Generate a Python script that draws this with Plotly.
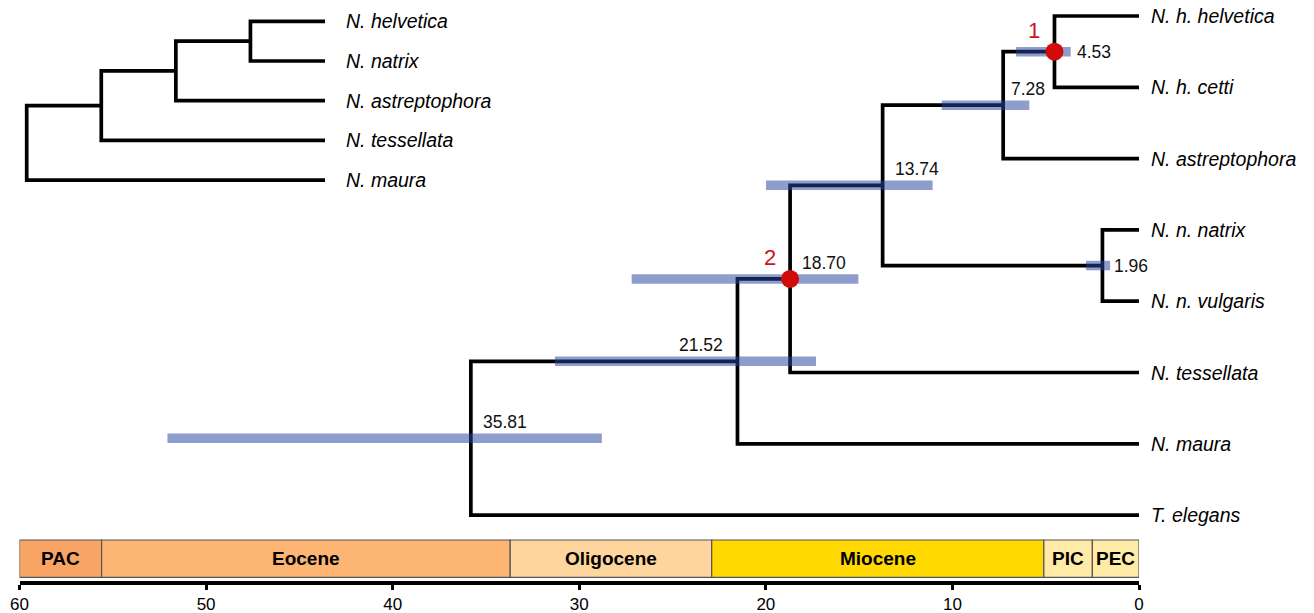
import plotly.graph_objects as go

# ---------------- data ----------------
tips = ["N. h. helvetica", "N. h. cetti", "N. astreptophora", "N. n. natrix",
        "N. n. vulgaris", "N. tessellata", "N. maura", "T. elegans"]

node_ids = ["n1", "n2", "n3", "n4", "n5", "n6", "n7"]
node_left = ["N. h. helvetica", "n1", "N. n. natrix", "n2", "n4", "n5", "n6"]
node_right = ["N. h. cetti", "N. astreptophora", "N. n. vulgaris", "n3",
              "N. tessellata", "N. maura", "T. elegans"]
node_ages = [4.53, 7.28, 1.96, 13.74, 18.70, 21.52, 35.81]
hpd_low = [3.66, 5.88, 1.55, 11.06, 15.04, 17.31, 28.79]
hpd_high = [6.59, 10.57, 2.84, 19.99, 27.19, 31.30, 52.07]

calib_nodes = ["n1", "n5"]
calib_labels = ["1", "2"]

period_names = ["PAC", "Eocene", "Oligocene", "Miocene", "PIC", "PEC"]
period_start = [60, 55.6, 33.7, 22.9, 5.1, 2.5]
period_end = [55.6, 33.7, 22.9, 5.1, 2.5, 0]
period_colors = ["#F8A465", "#FDB574", "#FED69D", "#FFD900", "#FFEBA6", "#FFEBA6"]

tick_vals = [60, 50, 40, 30, 20, 10, 0]

inset_tips = ["N. helvetica", "N. natrix", "N. astreptophora", "N. tessellata", "N. maura"]
inset_ids = ["m1", "m2", "m3", "m4"]
inset_left = ["N. helvetica", "m1", "m2", "m3"]
inset_right = ["N. natrix", "N. astreptophora", "N. tessellata", "N. maura"]
inset_rank = [3, 2, 1, 0]
inset_tip_rank = 4

# ---------------- layout constants ----------------
W, H = 1314, 613
FONT = "Liberation Sans, Arial, Helvetica, sans-serif"
X0_PX, X60_PX = 1139.0, 19.5
ROW0_PX, ROW_STEP = 16.0, 71.3
MAIN_TOP_PX, MAIN_BOT_PX = 0.0, 581.0
BOX_TOP_PX, BOX_BOT_PX = 540.0, 577.3

def row_of(px):
    return (px - ROW0_PX) / ROW_STEP

# main tree coordinates
xpos, ypos = {}, {}
for i, t in enumerate(tips):
    xpos[t], ypos[t] = 0.0, float(i)
for nid, l, r, a in zip(node_ids, node_left, node_right, node_ages):
    xpos[nid] = a
    ypos[nid] = (ypos[l] + ypos[r]) / 2

tree_x, tree_y = [], []
for nid, l, r in zip(node_ids, node_left, node_right):
    a = xpos[nid]
    tree_x += [xpos[l], a, a, xpos[r], None]
    tree_y += [ypos[l], ypos[l], ypos[r], ypos[r], None]

hpd_x, hpd_y = [], []
for nid, lo, hi in zip(node_ids, hpd_low, hpd_high):
    hpd_x += [hi, lo, None]
    hpd_y += [ypos[nid], ypos[nid], None]

fig = go.Figure()
fig.add_trace(go.Scatter(x=tree_x, y=tree_y, mode="lines",
                         line=dict(color="black", width=3.7),
                         hoverinfo="skip", showlegend=False))
fig.add_trace(go.Scatter(x=hpd_x, y=hpd_y, mode="lines",
                         line=dict(color="rgba(38,68,155,0.52)", width=9.5),
                         hoverinfo="skip", showlegend=False))
fig.add_trace(go.Scatter(x=[xpos[n] for n in calib_nodes], y=[ypos[n] for n in calib_nodes],
                         mode="markers", marker=dict(color="#D20A0A", size=18, line=dict(width=0)),
                         cliponaxis=False, hoverinfo="skip", showlegend=False))

# inset tree
ixpos, iypos = {}, {}
for i, t in enumerate(inset_tips):
    ixpos[t], iypos[t] = float(inset_tip_rank), float(i)
for mid, l, r, rk in zip(inset_ids, inset_left, inset_right, inset_rank):
    ixpos[mid] = float(rk)
    iypos[mid] = (iypos[l] + iypos[r]) / 2
ix, iy = [], []
for mid, l, r in zip(inset_ids, inset_left, inset_right):
    a = ixpos[mid]
    ix += [ixpos[l], a, a, ixpos[r], None]
    iy += [iypos[l], iypos[l], iypos[r], iypos[r], None]
fig.add_trace(go.Scatter(x=ix, y=iy, mode="lines", xaxis="x2", yaxis="y2",
                         line=dict(color="black", width=3.7),
                         hoverinfo="skip", showlegend=False))

annotations = []
# tip labels
for t in tips:
    annotations.append(dict(x=0, y=ypos[t], xref="x", yref="y", text=f"<i>{t}</i>",
                            showarrow=False, xanchor="left", yanchor="middle", xshift=10,
                            font=dict(size=19.5, color="black", family=FONT)))
for t in inset_tips:
    annotations.append(dict(x=ixpos[t], y=iypos[t], xref="x2", yref="y2", text=f"<i>{t}</i>",
                            showarrow=False, xanchor="left", yanchor="middle", xshift=19,
                            font=dict(size=19.5, color="black", family=FONT)))

# node age labels
place = {"n1": ("bar", 4, 0), "n3": ("bar", 2, 0), "n6": ("left", -12, 16)}
for nid, a, lo in zip(node_ids, node_ages, hpd_low):
    kind, dx, dy = place.get(nid, ("right", 10, 16))
    if kind == "bar":
        xa, anchor = lo, "left"
    elif kind == "left":
        xa, anchor = a, "right"
    else:
        xa, anchor = a, "left"
    if nid == "n2":
        dx = 6
    annotations.append(dict(x=xa, y=ypos[nid], xref="x", yref="y", text=f"{a:.2f}",
                            showarrow=False, xanchor=anchor, yanchor="middle",
                            xshift=dx, yshift=dy,
                            font=dict(size=17.5, color="#111111", family=FONT)))
# calibration labels
for n, lab in zip(calib_nodes, calib_labels):
    annotations.append(dict(x=xpos[n], y=ypos[n], xref="x", yref="y", text=lab,
                            showarrow=False, xanchor="center", yanchor="middle",
                            xshift=-20, yshift=21,
                            font=dict(size=22, color="#C8141E", family=FONT)))

# geological periods
shapes = []
by0, by1 = row_of(BOX_TOP_PX), row_of(BOX_BOT_PX)
for name, s, e, c in zip(period_names, period_start, period_end, period_colors):
    shapes.append(dict(type="rect", xref="x", yref="y", x0=s, x1=e, y0=by0, y1=by1,
                       fillcolor=c, line=dict(color="#555555", width=1.2), layer="below"))
    annotations.append(dict(x=(s + e) / 2, y=(by0 + by1) / 2, xref="x", yref="y",
                            text=name, showarrow=False, xanchor="center", yanchor="middle",
                            font=dict(size=19, color="black", family=FONT, weight="bold")))

# axis geometry
y_dom = [(H - MAIN_BOT_PX) / H, (H - MAIN_TOP_PX) / H]
y_rng = [row_of(MAIN_BOT_PX), row_of(MAIN_TOP_PX)]

INS_ROW0, INS_STEP = 21.3, 39.7
INS_R0, INS_RSTEP = 26.7, 74.575
ins_xpx = [10, 340]
ins_ypx = [8, 195]

fig.update_layout(
    width=W, height=H,
    margin=dict(l=0, r=0, t=0, b=0, autoexpand=False),
    paper_bgcolor="white", plot_bgcolor="rgba(0,0,0,0)",
    font=dict(family=FONT, color="black"),
    showlegend=False,
    hovermode=False,
    xaxis=dict(domain=[X60_PX / W, X0_PX / W], range=[60, 0], anchor="y",
               automargin=False,
               showline=True, linecolor="black", linewidth=4,
               ticks="outside", ticklen=5, tickwidth=3, tickcolor="black",
               tickvals=tick_vals, ticktext=[str(v) for v in tick_vals],
               tickfont=dict(size=17, color="black", family=FONT),
               showgrid=False, zeroline=False, fixedrange=True),
    yaxis=dict(domain=y_dom, range=[y_rng[0], y_rng[1]], visible=False, automargin=False,
               showgrid=False, zeroline=False, fixedrange=True),
    xaxis2=dict(domain=[ins_xpx[0] / W, ins_xpx[1] / W],
                range=[(ins_xpx[0] - INS_R0) / INS_RSTEP, (ins_xpx[1] - INS_R0) / INS_RSTEP],
                anchor="y2", visible=False, automargin=False, showgrid=False, zeroline=False,
                fixedrange=True),
    yaxis2=dict(domain=[(H - ins_ypx[1]) / H, (H - ins_ypx[0]) / H],
                range=[(ins_ypx[1] - INS_ROW0) / INS_STEP, (ins_ypx[0] - INS_ROW0) / INS_STEP],
                anchor="x2", visible=False, automargin=False, showgrid=False, zeroline=False,
                fixedrange=True),
    shapes=shapes,
    annotations=annotations,
)

fig.write_html("out.html", config={"displayModeBar": False, "staticPlot": True},
               post_script="document.body.style.margin='0px';document.body.style.overflow='hidden';")
